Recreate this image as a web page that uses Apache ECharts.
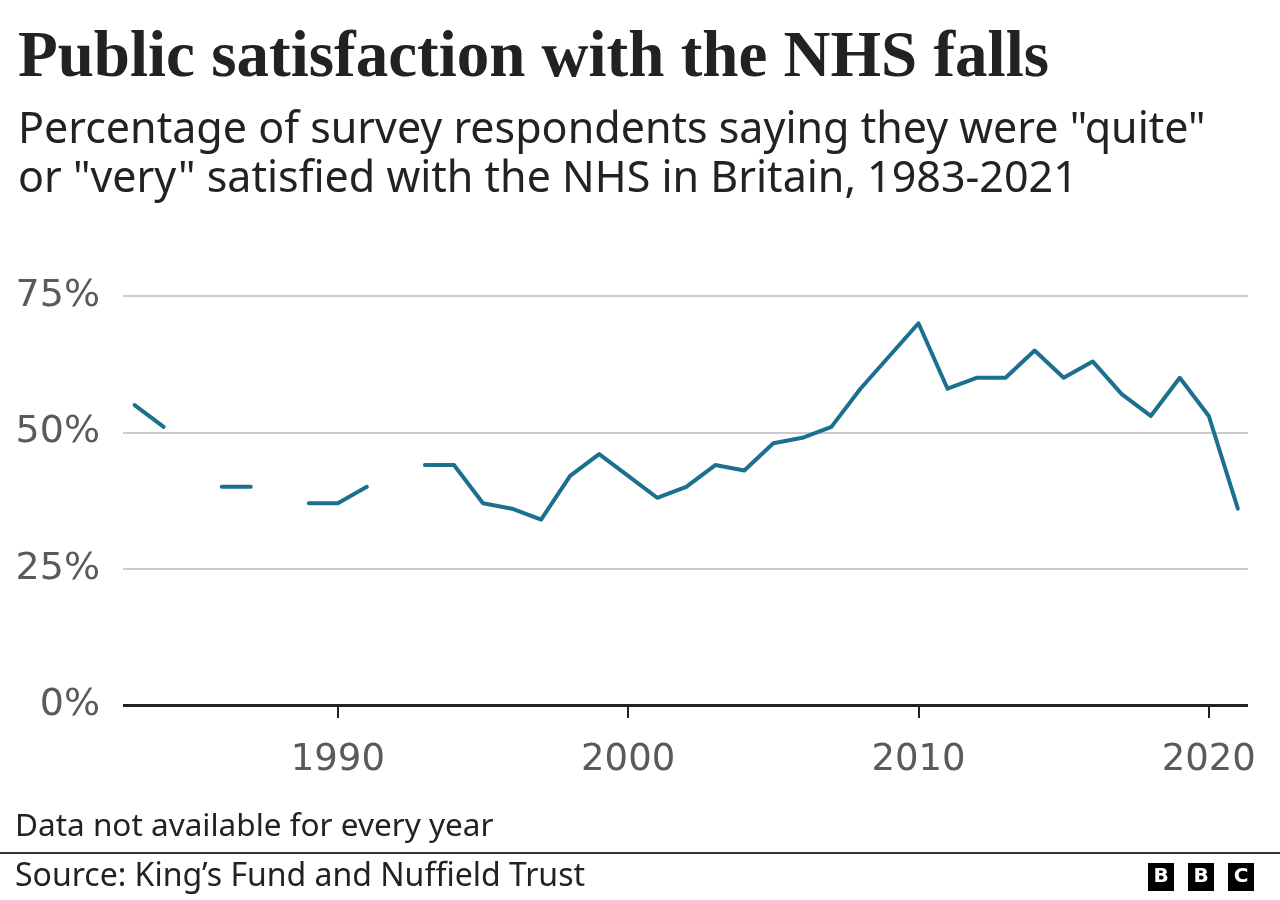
<!DOCTYPE html>
<html>
<head>
<meta charset="utf-8">
<script src="https://cdn.jsdelivr.net/npm/echarts@6/dist/echarts.min.js"></script>
<style>
  html, body { margin: 0; padding: 0; background: #fff; }
  #chart { width: 1280px; height: 900px; }
</style>
</head>
<body>
<div id="chart"></div>
<script>
const years = [1983,1984,1985,1986,1987,1988,1989,1990,1991,1992,1993,1994,1995,1996,1997,1998,1999,2000,2001,2002,2003,2004,2005,2006,2007,2008,2009,2010,2011,2012,2013,2014,2015,2016,2017,2018,2019,2020,2021];
const satisfaction = [55,51,null,40,40,null,37,37,40,null,44,44,37,36,34,42,46,42,38,40,44,43,48,49,51,58,64,70,58,60,60,65,60,63,57,53,60,53,36];
const xTickLabels = [1990, 2000, 2010, 2020];
const yTickValues = [0, 25, 50, 75];

const titleText = 'Public satisfaction with the NHS falls';
const subtitleLines = ['Percentage of survey respondents saying they were "quite"', 'or "very" satisfied with the NHS in Britain, 1983-2021'];
const noteText = 'Data not available for every year';
const sourceText = 'Source: King\u2019s Fund and Nuffield Trust';

const chart = echarts.init(document.getElementById('chart'), null, { renderer: 'canvas' });

const seriesData = years.map((y, i) => [y, satisfaction[i]]);

const logoLetters = ['B', 'B', 'C'];
const logoGraphics = logoLetters.map((ch, i) => ({
  type: 'group',
  left: 1148 + i * 40,
  top: 863,
  children: [
    { type: 'rect', shape: { x: 0, y: 0, width: 26, height: 28 }, style: { fill: '#000' } },
    { type: 'text', x: 13, y: 14, style: { text: ch, fill: '#fff', font: 'bold 20px "DejaVu Sans"', align: 'center', verticalAlign: 'middle' } }
  ]
}));

chart.setOption({
  animation: false,
  backgroundColor: '#fff',
  grid: { left: 123, right: 32, top: 296, bottom: 195, containLabel: false },
  xAxis: {
    type: 'value',
    min: 1982.6,
    max: 2021.35,
    splitLine: { show: false },
    axisLine: { show: false },
    axisTick: { show: true, customValues: xTickLabels, length: 13, lineStyle: { color: '#222', width: 2 } },
    axisLabel: { customValues: xTickLabels, color: '#5a5a5a', fontSize: 37, fontFamily: 'DejaVu Sans', margin: 37, formatter: v => String(v) }
  },
  yAxis: {
    type: 'value',
    min: 0,
    max: 75,
    interval: 25,
    axisLine: { show: false },
    axisTick: { show: false },
    splitLine: { show: true, lineStyle: { color: '#cccccc', width: 2 } },
    axisLabel: { color: '#5a5a5a', fontSize: 38, fontFamily: 'DejaVu Sans', margin: 23, padding: [9, 0, 0, 0], formatter: v => v + '%' }
  },
  series: [
    {
      type: 'line',
      data: seriesData,
      connectNulls: false,
      showSymbol: false,
      symbol: 'none',
      lineStyle: { color: '#1b6f8f', width: 4, cap: 'round', join: 'round' },
      z: 5,
      markLine: {
        silent: true,
        symbol: 'none',
        label: { show: false },
        lineStyle: { color: '#222', width: 3, type: 'solid' },
        data: [{ yAxis: 0 }],
        z: 4
      }
    }
  ],
  graphic: [
    { type: 'text', left: 18, top: 27, style: { text: titleText, fill: '#222', font: 'bold 65px "Liberation Serif"' } },
    { type: 'text', left: 18, top: 109, style: { text: subtitleLines[0], fill: '#222', font: '43px "Noto Sans"' } },
    { type: 'text', left: 18, top: 158, style: { text: subtitleLines[1], fill: '#222', font: '43px "Noto Sans"' } },
    { type: 'text', left: 15, top: 811, style: { text: noteText, fill: '#222', font: '31.5px "Noto Sans"' } },
    { type: 'rect', shape: { x: 0, y: 852, width: 1280, height: 2 }, style: { fill: '#333' } },
    { type: 'text', left: 15, top: 861, style: { text: sourceText, fill: '#222', font: '32px "Noto Sans"' } },
    ...logoGraphics
  ]
});
</script>
</body>
</html>
